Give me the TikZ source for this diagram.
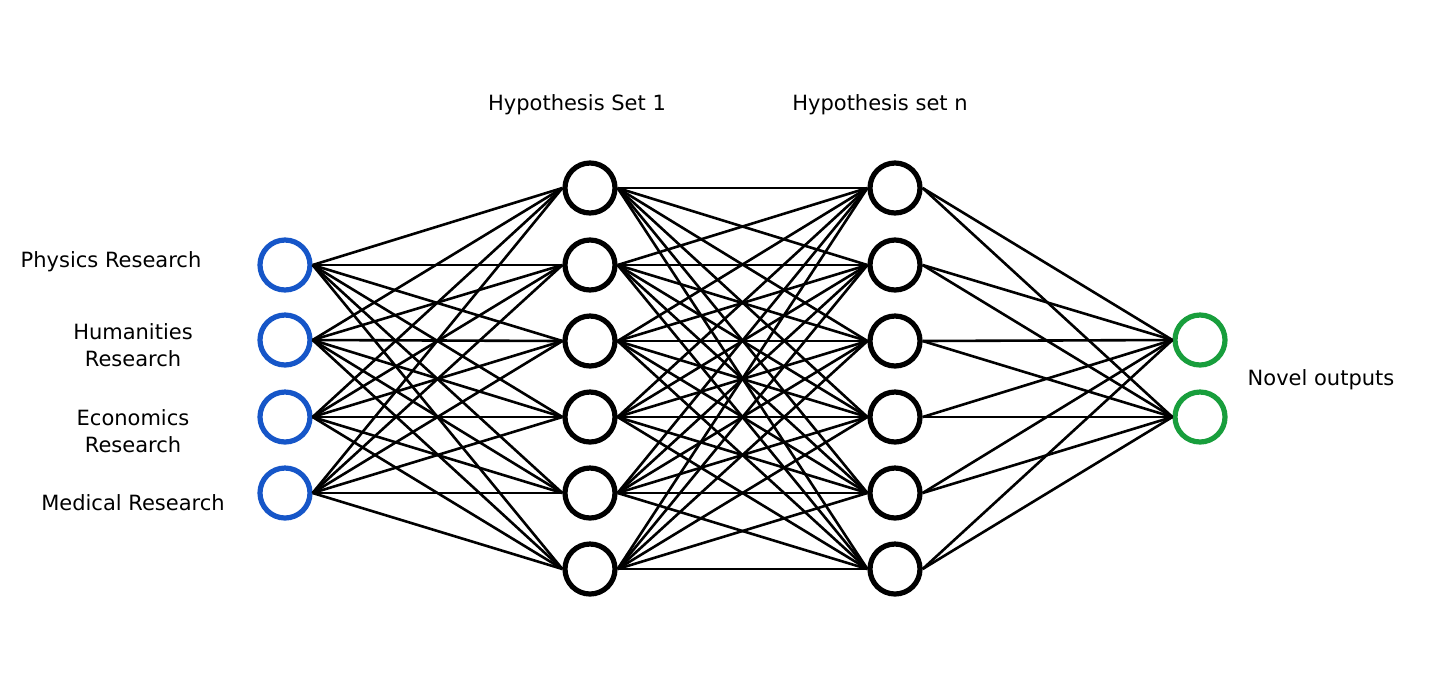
\documentclass[tikz,border=0pt]{standalone}
\usepackage{fontspec}
\setmainfont{DejaVu Sans}
\definecolor{inblue}{RGB}{22,86,200}
\definecolor{outgreen}{RGB}{24,158,60}
\begin{document}
\begin{tikzpicture}[x=0.5pt,y=-0.5pt,
  neuron/.style={circle,draw,line width=2.6pt,minimum size=25pt,inner sep=0pt,fill=white},
  inneuron/.style={neuron,draw=inblue},
  outneuron/.style={neuron,draw=outgreen},
  hidneuron/.style={neuron,draw=black},
  link/.style={line width=1.3pt,black},
  lbl/.style={font=\fontsize{10.5pt}{13.5pt}\selectfont,align=center,inner sep=0pt}]
\useasboundingbox (0,0) rectangle (1456,682);
% nodes
\foreach \i/\y in {1/265,2/340,3/417,4/493}
  \node[inneuron] (in\i) at (285,\y) {};
\foreach \i/\y in {1/188,2/265,3/341,4/417,5/493,6/569}{
  \node[hidneuron] (ha\i) at (590,\y) {};
  \node[hidneuron] (hb\i) at (895,\y) {};
}
\node[outneuron] (out1) at (1200,340) {};
\node[outneuron] (out2) at (1200,417) {};
% edges
\foreach \i in {1,...,4}
  \foreach \j in {1,...,6}
    \draw[link] (in\i.east) -- (ha\j.west);
\foreach \i in {1,...,6}
  \foreach \j in {1,...,6}
    \draw[link] (ha\i.east) -- (hb\j.west);
\foreach \i in {1,...,6}
  \foreach \j in {1,2}
    \draw[link] (hb\i.east) -- (out\j.west);
% labels
\node[lbl] (lphys) at (111,262) {Physics Research};
\node[lbl] (lhum) at (133,345) {Humanities\\Research};
\node[lbl] (lecon) at (133,431) {Economics\\Research};
\node[lbl] (lmed) at (133,503) {Medical Research};
\node[lbl] (lh1) at (577,105) {Hypothesis Set 1};
\node[lbl] (lhn) at (880,105) {Hypothesis set n};
\node[lbl] (lout) at (1321,380) {Novel outputs};
\end{tikzpicture}
\end{document}
